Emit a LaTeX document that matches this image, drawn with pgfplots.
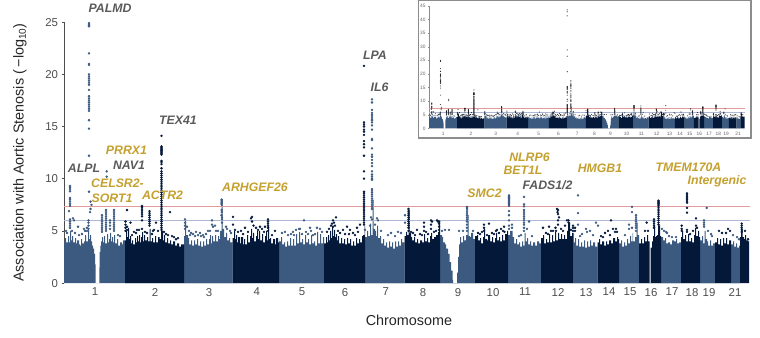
\documentclass[border=0pt]{standalone}
\usepackage{pgfplots}
\usepackage{pgfplotstable}
\usepackage{fontspec}
\setmainfont{Liberation Sans}
\pgfplotsset{compat=1.18}
\definecolor{lightb}{HTML}{3C5A80}
\definecolor{darkb}{HTML}{04183A}
\definecolor{gold}{HTML}{C4A02E}
\definecolor{gene}{HTML}{5A5A5A}
\definecolor{redl}{HTML}{E39A9A}
\definecolor{bluel}{HTML}{AEB8D4}
\definecolor{tickc}{HTML}{4D4D4D}
% skylines, x in plotted position along the genome, y = -log10 p
\pgfplotstableread[row sep=\\]{x y\\
125 0\\125 4.1\\126 5.0\\127 4.4\\128 5.3\\129 4.2\\130 4.5\\131 3.8\\132 4.1\\133 3.7\\135 4.3\\136 3.9\\137 4.5\\138 4.0\\139 4.6\\140 3.9\\141 4.4\\142 4.9\\143 4.0\\144 4.6\\145 4.1\\147 4.4\\148 4.0\\149.5 5.2\\150.5 4.0\\152 4.3\\153 3.9\\155 4.5\\156 3.9\\158 4.4\\159.5 4.2\\161 5.2\\162 5.0\\163 4.1\\164 4.6\\165 3.9\\167 4.3\\168 3.8\\170 4.1\\171 3.7\\173 4.0\\175 3.6\\177 3.8\\179 3.5\\181 3.7\\184 3.5\\184 0\\
232.5 0\\232.5 4.3\\234 5.0\\235 4.2\\236 4.6\\237 3.9\\238 4.4\\240 3.8\\241 4.4\\243 3.7\\244 4.2\\245 3.7\\247 4.6\\248 3.9\\250 4.5\\251 5.2\\252 4.3\\253 4.8\\254 4.0\\256 4.5\\257 5\\258 4.2\\259 5\\260 4.1\\262 4.7\\263 3.9\\265 4.5\\266 5\\267 4.1\\268 5.5\\269 4.2\\270 4.3\\271 3.8\\273 4.2\\275 3.7\\276 4.3\\278 3.9\\279 4.2\\279 0\\
324 0\\324 3.8\\326 4.4\\327 3.9\\328 4.6\\329 4.1\\330 5\\331 4.3\\332 5.4\\333 4.5\\334 5.1\\335 4.4\\336 4.7\\337 4.1\\338 4.5\\339 3.8\\341 4.3\\342 3.8\\344 4.2\\345 3.7\\347 4.3\\348 3.8\\350 4.2\\351 3.6\\353 4\\354 3.6\\356 4.3\\357 3.8\\359 4.2\\360 3.9\\362 4.5\\363 4.6\\364.5 5.5\\365 4.2\\365 0\\
404.5 0\\404.5 4.5\\406 4.9\\407 4.6\\408.5 7\\409.5 4.8\\411 4.4\\412 4.1\\414 4.4\\415 3.9\\417 4.2\\418 3.8\\420 4.1\\422 3.9\\424 4.7\\425 4.0\\427 4.3\\428 3.9\\430 4.5\\431 4.8\\432 4.2\\434 4.4\\436 4.6\\438 4.9\\439 6\\440 4.5\\440 0\\
475 0\\475 4.5\\477 4.6\\478 4.1\\480 4.3\\481 3.8\\483 4.4\\484 5.2\\485 4.2\\487 4.1\\488 4.6\\490 4.0\\492 4.4\\493 3.9\\495 4.3\\496 4.8\\497 4.1\\499 4.4\\500 4.0\\502 4.6\\503 4.1\\505 4.7\\507 5\\508 4.6\\508 0\\
541 0\\541 4.3\\543 4.6\\544 3.8\\546 4.2\\547 3.9\\549 4.7\\550 3.9\\552 4.6\\553 4.0\\555 4.9\\556 4.1\\558 4.8\\559 4.2\\561 4.7\\562 4.2\\564 4.6\\565 4.2\\567 5\\568 5.8\\569.5 5.9\\570 4.5\\572 4.8\\573.5 4.2\\573.5 0\\
597.5 0\\597.5 3.9\\599 4.2\\600 3.7\\602 4.0\\604 3.6\\606 4.0\\607 3.7\\609 4.1\\611 3.8\\613 4.3\\615 4.0\\617 4.4\\618 4.2\\619 4.0\\619 0\\
639 0\\639 3.8\\641 4.2\\642 3.8\\644 4.4\\645 4\\647 4.6\\648 4.0\\649.5 3.6\\649.5 0\\650.7 0\\650.7 3.4\\652 4\\653 4.5\\654 5.5\\655 4.4\\656 4.5\\657 4.6\\658 5.5\\659.5 5.6\\660 4.5\\661 4.2\\661 0\\
681 0\\681 4.4\\682 5\\683 4.2\\685 4.6\\686 4\\688 4.7\\689 4\\691 4.3\\692 3.9\\694 4.6\\695 5.3\\696 4.5\\698 5\\699 4.4\\700 4.2\\700 0\\
715 0\\715 3.9\\717 4.3\\718 3.7\\720 4.2\\721 3.6\\723 4.3\\724 3.8\\726 4.3\\727 3.7\\729 4.1\\731 3.7\\731 0\\
740 0\\740 4.4\\741 5.2\\742.5 4.4\\744 4.2\\745 4.6\\746 4.1\\748 4.0\\749 3.7\\749 0\\
}\skydark
\pgfplotstableread[row sep=\\]{x y\\
64 0\\64 4.0\\65 4.3\\66 3.9\\68 4.5\\69 3.9\\70 5.0\\71 4.1\\72 4.5\\73 3.9\\75 4.3\\76 3.8\\77 4.1\\79 3.7\\80 3.6\\81 4.2\\82 3.8\\84 4.0\\85 4.6\\86 4.0\\88 5.0\\89 4.2\\90 4.6\\91 4.0\\92 3.6\\93 3.3\\94 2.8\\95 1.8\\95.7 0\\
99 0\\99.3 1.5\\99.7 3\\100.3 3.6\\101 4\\102 4.4\\103 3.9\\104 4.5\\105 3.8\\107 4.7\\108 3.9\\109 4.2\\110 4.8\\111 4\\112 4.4\\113 3.9\\114 4.6\\115 3.8\\117 4.2\\118 3.6\\120 3.9\\122 3.7\\123 4.1\\125 3.8\\125 0\\
184 0\\184 4.5\\185 6\\186 4.6\\188 4.3\\189 3.7\\191 4.1\\192 3.6\\194 4.1\\195 3.7\\197 4.2\\198 3.6\\200 4.0\\201 3.5\\203 4\\204 3.6\\206 4.2\\207 3.7\\209 4.2\\210 4.6\\211 3.8\\212 4.5\\213 4.0\\215 4.6\\216 4\\218 4.5\\219 4.2\\220 5\\221.5 7.5\\222.5 5.2\\224 4.4\\226 4.8\\227 4.1\\229 4.3\\230 3.9\\232.5 4.0\\232.5 0\\
279 0\\279 4\\281 4.4\\282 3.7\\284 3.9\\285 3.5\\287 4\\288 3.6\\290 4.3\\291 3.6\\293 4.2\\294 3.6\\296 4.7\\297 3.8\\299 4.9\\300 3.9\\302 4.2\\303 3.7\\305 4.6\\306 3.9\\308 4.2\\309 3.7\\311 4.6\\312 3.8\\314 4.0\\315 3.6\\317 4.9\\318 3.8\\320 4.7\\321 3.8\\323 4.4\\324 3.8\\324 0\\
365 0\\365 4.4\\367 5\\368 4.5\\370 5.7\\371 4.6\\372.5 8\\373.5 5.2\\375 5\\376 4.5\\377 5.5\\378 4.3\\380 4.5\\381 3.8\\383 4.2\\384 3.6\\386 3.9\\387 3.4\\389 4\\390 3.5\\392 3.9\\393 3.3\\395 4\\396 3.5\\398 4\\399 3.6\\401 4.2\\402 3.9\\404.5 4.5\\404.5 0\\
440 0\\440 4.6\\442 4.4\\443 3.9\\445 3.7\\446 3.3\\448 2.8\\449.5 2\\451 1.2\\452.5 0.3\\453 0\\456.7 0\\457 1\\458 2.5\\459 3.7\\460 4.4\\461 3.9\\463 4.5\\464 4.1\\466 4.6\\467.5 6.5\\468.5 4.5\\470 4.4\\471 4.8\\473 4.2\\475 4.4\\475 0\\
508 0\\508 4.6\\510 5\\511 5.0\\512.5 4.4\\514 3.8\\516 4.2\\517 3.7\\519 3.9\\520 3.5\\522 4.0\\523 3.6\\524.5 4.8\\525.5 4\\527 4.3\\528 3.7\\530 4\\531 3.6\\533 3.9\\535 3.6\\537 4\\539 3.8\\541 4.1\\541 0\\
573.5 0\\573.5 3.9\\575 4.3\\576 3.6\\578 4.2\\579 3.5\\581 3.9\\582 3.5\\584 4.1\\585 3.4\\587 4.0\\588 3.5\\590 4.1\\591 3.6\\593 3.9\\595 3.5\\597.5 3.7\\597.5 0\\
619 0\\619 3.8\\621 4.1\\622 3.5\\624 3.9\\625 3.6\\627 4.2\\628 3.8\\630 4.5\\631 4\\632.5 4.8\\633 4.0\\635 4.4\\636.5 5.8\\637.5 4.6\\639 4.1\\639 0\\
661 0\\661 4.4\\663 4.1\\665 4.3\\666 3.8\\668 3.9\\670 3.7\\672 4.1\\674 4.0\\676 4.2\\677 3.8\\679 3.9\\681 4.1\\681 0\\
700 0\\700 4.1\\702 4.5\\703 3.8\\704.5 5\\705.5 4.2\\707 4.0\\708 3.6\\710 4.1\\711 3.6\\713 3.8\\715 3.7\\715 0\\
731 0\\731 3.7\\733 4.0\\734 3.5\\736 3.8\\737 3.4\\739 3.6\\740 3.5\\740 0\\
}\skylight
% variants above the skyline
\pgfplotstableread[row sep=\\]{x y\\
70 9.3\\70 9.15\\70 9\\70 8.8\\70 8.15\\70 8\\70 7.8\\70 7.6\\70 7.4\\69 6.9\\70 6.1\\70 5.9\\70 5.7\\70 5.5\\70 5.3\\73 6.2\\74 6\\78 5.4\\84 5.2\\86 5\\
66 5\\67 4.8\\72 5\\75 4.8\\79 4.6\\82 4.7\\85 5\\87 5.3\\
89 24.9\\89 24.8\\89 24.7\\89 24.6\\89 22\\89 21\\89 20.9\\89 20\\89 19.8\\89 19.6\\89 19.4\\89 19.2\\89 19\\89 18.5\\89 17.9\\89 17.7\\89 17.5\\89 17.3\\89 17.1\\89 16.9\\89 16.7\\89 16.5\\89 15.6\\89 14.8\\89 12.2\\
89 8.75\\90.5 7.8\\91.5 7.5\\90.5 7.1\\90 6.8\\88.5 6\\88.5 5.8\\88.5 5.5\\88.5 5.2\\88 5\\
106.7 10.7\\106.7 10.2\\102 6.5\\102 6.3\\102 6.1\\102 5.9\\102 5.7\\102 5.5\\102 5.3\\102 5.1\\102 4.9\\106 7\\106 6.8\\106 6.6\\106 6.4\\106 6.2\\106 6\\106 5.8\\106 5.6\\106 5.4\\106 5.2\\106 5\\110 6\\110 5.8\\110 5.5\\110 5.2\\114 7\\114 6.8\\114 6.6\\114 6.4\\114 6.2\\114 6\\114 5.8\\114 5.6\\114 5.4\\114 5.2\\114 5\\118 4.6\\120 4.5\\
185 6.1\\185 5.8\\185 5.5\\185 5.2\\187 5.4\\189 5.0\\191 4.8\\196 4.9\\201 4.5\\204 4.4\\208 5.0\\212 6\\212 5.6\\213 5.4\\215 5.5\\216 5.0\\218 5\\221.7 8\\221.7 7.9\\221.7 7.8\\221.7 7.7\\221.7 7.6\\221.7 7.5\\221.7 7\\221.7 6.8\\221.5 6.5\\222 6.3\\222 6.1\\222 5.8\\226 5.4\\227 5.2\\230 5.0\\231 4.8\\
190 4.6\\193 4.7\\195 4.5\\198 4.6\\200 4.8\\203 4.6\\206 4.7\\210 5\\
304 6\\300 5.2\\310 5.3\\285 4.9\\288 4.6\\293 4.9\\296 5.1\\299 5.2\\306 4.9\\311 5.0\\317 5.3\\320 5.2\\315 4.7\\
282 4.8\\291 4.7\\294 4.6\\302 4.7\\308 4.7\\313 4.6\\322 4.9\\
364.9 5.1\\372 17.6\\372 17.3\\372 16.6\\372 16.3\\372 16.1\\372 15.9\\372 15.7\\372 15.6\\372 15.4\\372 15.1\\372 14.7\\372 13.8\\372 13.7\\372 12.9\\372 12.3\\372 12.1\\372 11.8\\372 11.5\\372 11.2\\372 10.7\\372 10.4\\372 10.2\\372 10\\372 9.9\\372 9\\372 8.9\\372 8.7\\372 8.5\\372 8.3\\372 8.1\\372 7.9\\372 7.7\\372 7.5\\372 7.3\\372 7.1\\371 6.3\\372 6.1\\377 6.2\\378 6\\370 5.5\\375 5.6\\381 5\\388 4.6\\391 4.8\\395 4.5\\398 4.9\\401 4.8\\
405 6.5\\405 5.8\\442 5\\445 5.1\\449 5.1\\459 5\\463 5\\467 7.3\\467 7.2\\467 7.1\\467 6.9\\467 6.7\\467 6.5\\467 6.3\\467 6.1\\467 5.9\\467 5.6\\467 5.3\\467 5\\473 5\\
509 8.4\\509 8.3\\509 8.2\\509 8.1\\509 8\\509 7.9\\509 7.8\\509 7.7\\509 7.6\\509 7.5\\509 7.4\\509 6.9\\509 6.5\\509 6\\509 5.5\\509 5.2\\512 5.6\\512 5.3\\
524 8.25\\524 7.55\\524 7.35\\524 7\\524 6.8\\524 6.6\\524 6.4\\524 6.2\\524 6\\524 5.8\\524 5.6\\524 5.3\\524 5\\529 5.9\\527 5.2\\521 4.6\\519 4.5\\532 4.5\\
578 8.4\\578 6.7\\578 5.6\\596 5.8\\598 5.5\\586 5.2\\590 5\\587 4.9\\582 4.7\\593 4.6\\580 4.5\\
632 7.3\\632 6.8\\636 6.5\\636 6.3\\636 6.1\\636 5.9\\636 5.7\\636 5.5\\636 5.3\\636 5\\629 5.6\\629 5.2\\632 5.3\\625 4.6\\
662 5.2\\664 5\\666 4.9\\667 4.8\\672 4.4\\676 4.4\\669 4.5\\
704 6\\704 5.8\\704 5.6\\704 5.4\\706.7 7.2\\708 5\\711 4.7\\712 4.5\\
733 4.6\\737 4.4\\739 4.2\\
}\ptlight
\pgfplotstableread[row sep=\\]{x y\\
127 7\\130.5 5.8\\125.5 5.9\\125.5 5.6\\125.5 5.3\\125.5 5\\127 5.4\\127 5.1\\134 4.9\\137 5.1\\139 5.1\\
142 7.4\\142 7.3\\142 7.2\\142 7\\142 6.8\\142 6.6\\142 6.4\\142 6\\142 5.2\\149.5 6.9\\149.5 6.7\\149.5 6.5\\149.5 6.3\\149.5 6.1\\149.5 5.9\\149.5 5.7\\149.5 5.5\\156 5.8\\154 5.1\\153 5\\158 5\\164 4.9\\166 4.7\\170 6.8\\172 4.5\\
132 4.6\\136 4.8\\145 4.9\\147 4.8\\152 4.7\\168 4.6\\174 4.4\\176 4.2\\178 4.3\\
161.5 14.1\\161.5 13.1\\161.5 13\\161.5 12.9\\161.5 12.8\\161.5 12.7\\161.5 12.6\\161.5 12.5\\161.5 12.4\\161.5 12.3\\161.5 11.7\\161.5 11.6\\161.5 11.4\\161.5 11\\161.5 10.7\\161.5 10.5\\161.5 10.3\\161.5 10.1\\161.5 9.9\\161.5 9.7\\161.5 9.5\\161.5 9.3\\161.5 9.1\\161.5 8.9\\161.5 8.7\\161.5 8.5\\161.5 8.3\\161.5 8.1\\161.5 7.9\\161.5 7.7\\161.5 7.5\\161.5 7.3\\161.5 7.1\\161.5 6.9\\161.5 6.7\\161.5 6.5\\161.5 6.3\\161.5 6.1\\161.5 5.9\\161.5 5.7\\161.5 5.5\\161.5 5.3\\161.5 5.1\\
233 6.35\\233 5.6\\235 5.1\\245 5.3\\251 6.2\\252 6.35\\252 5.9\\253.5 5.5\\256 5.3\\260 5.4\\265 5.4\\268 6.1\\268 5.9\\268 5.7\\268 5.5\\268 5.3\\268 5\\272 4.6\\275 5.0\\
238 4.9\\241 5\\243 4.7\\248 4.9\\258 5.1\\262 5.2\\264 4.9\\
336 6.3\\331 5.5\\332 5.7\\333 5.4\\334 5.8\\335 5.5\\333 6\\329 5.2\\347 5.4\\350 5.1\\358 4.9\\353 4.8\\343 5.1\\357 5.3\\360 5.6\\
327 4.9\\338 5\\340 4.8\\345 4.7\\349 4.7\\355 4.6\\
364 20.8\\364 15.4\\364 15.2\\364 15\\364 14.7\\364 14.5\\364 14.2\\364 13.6\\364 13.3\\364 13\\364 12.2\\364 10.7\\364 10\\364 8.75\\364 8.6\\364 8.4\\364 8.2\\364 8\\364 7.8\\364 7.6\\364 7.4\\364 7.2\\364 7\\364 6.8\\364 6.6\\364 6.4\\364 6.2\\364 6\\364 5.8\\364 5.6\\
408.5 7.1\\408.5 6.9\\408.5 6.7\\408.5 6.5\\408.5 6.3\\408.5 6.1\\408.5 5.9\\408.5 5.7\\408.5 5.5\\408.5 5.3\\408.5 5\\417 5.1\\424 5.8\\424 5.4\\424 5\\431 6\\431 5.6\\431 5.2\\432 5.9\\426 4.9\\437 6\\438 5.9\\439 5.9\\439 5.7\\439 5.4\\439 5.1\\436 5\\
411 4.9\\413 4.8\\415 4.6\\420 4.7\\422 4.6\\428 4.7\\434 4.9\\
484 5.6\\484 5.3\\484 5\\489 5.7\\496 5\\492 4.8\\497 5.1\\501 5.2\\503 5\\504 5.4\\504.5 4.9\\482 4.9\\
478 4.8\\480 4.7\\487 4.6\\494 4.7\\499 4.8\\
543 5.3\\549 5.4\\551 5\\553 5\\555.5 5.3\\557 7.1\\558 7\\557.5 6.8\\558 6.6\\559 6.3\\558 6\\558 5.6\\556 5\\561 5.2\\565 5.5\\567 6\\568.5 6\\568.5 5.8\\573 5.5\\573 5.3\\573 5\\575 5.3\\575 5\\
546 4.8\\548 4.7\\563 5\\571 5.1\\
611 6\\608 5\\613 5.2\\615 4.9\\617 4.9\\605 4.8\\616 5.2\\
601 4.5\\603 4.4\\610 4.6\\
646.7 5.8\\645 5\\648 5\\654 6.1\\654 5.9\\654 5.7\\654 5.5\\654 5.3\\658.5 7.9\\658.5 7.8\\658.5 7.7\\658.5 7.6\\658.5 7.5\\658.5 7.4\\658.5 7.2\\658.5 7\\658.5 6.8\\658.5 6.6\\658.5 6.4\\658.5 6.2\\658.5 6\\658.5 5.8\\658.5 5.6\\
687 8.6\\687 8.45\\687 8.3\\687 8.15\\687 8\\687 7.85\\687 7.7\\687 7.2\\687 6.75\\687 5.1\\687 4.9\\681.7 5.5\\681.7 5.2\\681.7 5\\690 4.7\\696 6.2\\696 5.5\\697 5.3\\693 5\\
719 5\\722 4.8\\726 4.8\\728 5.2\\730 5\\
741.7 5.7\\741.7 5.5\\741.7 5.3\\741.7 5.1\\741.7 4.9\\745 5\\748 4.2\\
}\ptdark
\begin{document}
\begin{tikzpicture}[x=1pt,y=1pt]
\path (0,0) rectangle (760,337);
\begin{axis}[
  at={(64pt,54pt)},anchor=south west,scale only axis,width=686pt,height=261pt,
  xmin=64,xmax=750,ymin=0,ymax=25,clip=false,
  axis y line*=left,axis x line*=bottom,axis line style={-},
  x axis line style={draw=none},y axis line style={tickc,line width=0.8pt},
  xtick={95,155,209,256.7,302,345,385.7,423,458,493,525,558,586,609,630,651,672,692,709,735},
  xticklabels={1,2,3,4,5,6,7,8,9,10,11,12,13,14,15,16,17,18,19,21},
  ytick={0,5,10,15,20,25},
  tick align=outside,major tick length=2.5pt,
  major x tick style={draw=none},major y tick style={tickc,line width=0.6pt},
  tick label style={font=\fontsize{11.4}{12}\selectfont,text=tickc},
  /pgf/number format/assume math mode=true,
  xticklabel style={yshift=1pt},
]
\addplot[const plot,draw=none,fill=lightb] table[x=x,y=y]{\skylight}\closedcycle;
\addplot[const plot,draw=none,fill=darkb] table[x=x,y=y]{\skydark}\closedcycle;
\addplot[redl,line width=0.9pt] coordinates {(64,7.3)(750,7.3)};
\addplot[bluel,line width=0.9pt] coordinates {(64,6)(750,6)};
\addplot[only marks,mark=*,mark size=1pt,lightb,mark options={draw=none,fill=lightb}] table[x=x,y=y]{\ptlight};
\addplot[only marks,mark=*,mark size=1pt,darkb,mark options={draw=none,fill=darkb}] table[x=x,y=y]{\ptdark};
\end{axis}
% inset
\draw[draw=black!45,line width=1.2pt,fill=white] (418.5,199) rectangle (751,336.5);
\begin{axis}[
  at={(429pt,208.7pt)},anchor=south west,scale only axis,width=316pt,height=122.6pt,
  xmin=64,xmax=750,ymin=0,ymax=45,clip=false,
  axis y line*=left,axis x line*=bottom,axis line style={-},
  x axis line style={draw=none},y axis line style={black!45,line width=0.4pt},
  xtick={95,155,209,256.7,302,345,385.7,423,458,493,525,558,586,609,630,651,672,692,709,735},
  xticklabels={1,2,3,4,5,6,7,8,9,10,11,12,13,14,15,16,17,18,19,21},
  ytick={0,5,...,45},
  tick align=outside,major tick length=1pt,
  major x tick style={draw=none},major y tick style={black!45,line width=0.3pt},
  tick label style={font=\fontsize{4.8}{5}\selectfont,text=black!60},
  /pgf/number format/assume math mode=true,
  yticklabel style={xshift=1pt},xticklabel style={yshift=0.5pt},
]
\addplot[const plot,draw=none,fill=lightb] table[x=x,y=y]{\skylight}\closedcycle;
\addplot[const plot,draw=none,fill=darkb] table[x=x,y=y]{\skydark}\closedcycle;
\addplot[redl,line width=0.4pt] coordinates {(64,7.3)(750,7.3)};
\addplot[bluel,line width=0.4pt] coordinates {(64,6)(750,6)};
\addplot[only marks,mark=*,mark size=0.3pt,opacity=0.6,draw=none,fill=lightb,mark options={draw=none,fill=lightb}] table[x=x,y=y]{\ptlight};
\addplot[only marks,mark=*,mark size=0.3pt,opacity=0.7,draw=none,fill=darkb,mark options={draw=none,fill=darkb}] table[x=x,y=y]{\ptdark};
\addplot[only marks,mark=*,mark size=0.3pt,opacity=0.7,draw=none,fill=darkb,mark options={draw=none,fill=darkb}] coordinates {(364,43.5)(364,42.8)(364,41.3)(364,28.8)(364,26.5)};
\end{axis}
% text
\newcommand\gn[4]{\node[font=\fontsize{12.3}{13}\selectfont\bfseries\itshape,text=#1,inner sep=0pt,anchor=center] at (#2,337-#3) {#4};}
\gn{gene}{110}{8.5}{PALMD}
\gn{gene}{84}{168}{ALPL}
\gn{gold}{126.5}{150}{PRRX1}
\gn{gene}{129}{165}{NAV1}
\gn{gold}{117.5}{183}{CELSR2-}
\gn{gold}{112}{198}{SORT1}
\gn{gold}{162.5}{195}{ACTR2}
\gn{gene}{178}{120}{TEX41}
\gn{gold}{255}{187}{ARHGEF26}
\gn{gene}{375}{55.5}{LPA}
\gn{gene}{379.5}{87}{IL6}
\gn{gold}{484.5}{193}{SMC2}
\gn{gold}{529.5}{157}{NLRP6}
\gn{gold}{523}{170}{BET1L}
\gn{gene}{547.5}{185}{FADS1/2}
\gn{gold}{600}{168}{HMGB1}
\gn{gold}{688.5}{167}{TMEM170A}
\gn{gold}{717}{181}{Intergenic}
\node[font=\fontsize{14.4}{15}\selectfont,text=black!85,inner sep=0pt] at (409,337-320) {Chromosome};
\node[rotate=90,font=\fontsize{14.4}{15}\selectfont,text=black!85,inner sep=0pt] at (20,337-152.5) {Association with Aortic Stenosis (\,−log\textsubscript{10})};
\end{tikzpicture}
\end{document}
